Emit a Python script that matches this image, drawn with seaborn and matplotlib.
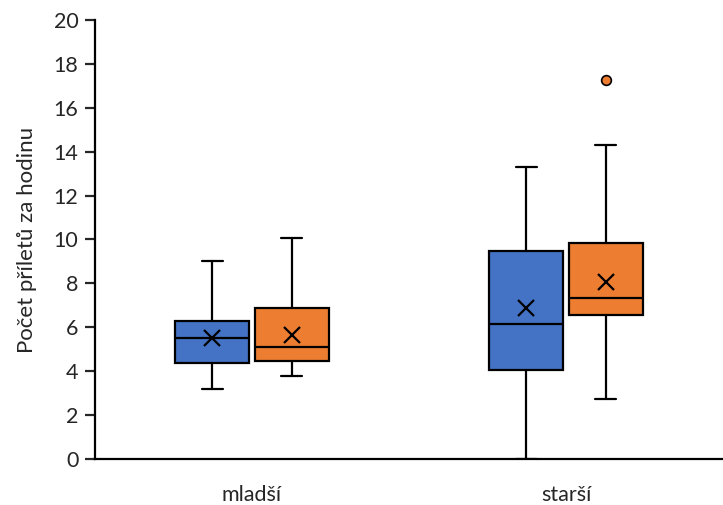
import matplotlib.pyplot as plt
import seaborn as sns
import numpy as np

# box statistics
categories = ['mladší', 'starší']
groups = ['blue', 'orange']
whislo = [[3.19, 0.0], [3.78, 2.73]]     # per group, per category
q1 = [[4.39, 4.05], [4.46, 6.57]]
med = [[5.50, 6.15], [5.12, 7.32]]
q3 = [[6.29, 9.49], [6.89, 9.83]]
whishi = [[9.02, 13.29], [10.07, 14.29]]
means = [[5.50, 6.86], [5.65, 8.08]]
fliers = [[[], []], [[], [17.27]]]

colors = ['#4472C4', '#ED7D31']

sns.set_style('ticks')
plt.rcParams['font.family'] = ['Lato', 'DejaVu Sans']

fig = plt.figure(figsize=(7.23, 5.05), dpi=100)
ax = fig.add_axes([0.1314, 0.0911, 0.8686, 0.8693])

offsets = [-0.127, 0.127]
for g in range(len(groups)):
    stats = []
    for c in range(len(categories)):
        stats.append(dict(whislo=whislo[g][c], q1=q1[g][c], med=med[g][c],
                          q3=q3[g][c], whishi=whishi[g][c], mean=means[g][c],
                          fliers=fliers[g][c]))
    pos = np.arange(len(categories)) + offsets[g]
    ax.bxp(stats, positions=pos, widths=0.236, capwidths=0.067,
           showmeans=True, patch_artist=True, manage_ticks=False,
           boxprops=dict(facecolor=colors[g], edgecolor='black', linewidth=1.6),
           medianprops=dict(color='black', linewidth=1.6),
           whiskerprops=dict(color='black', linewidth=1.6),
           capprops=dict(color='black', linewidth=1.6),
           meanprops=dict(marker='x', markersize=12, markeredgecolor='black',
                          markeredgewidth=1.6),
           flierprops=dict(marker='o', markersize=7, markerfacecolor=colors[g],
                           markeredgecolor='black', markeredgewidth=1.2))

ax.set_xlim(-0.5, 1.5)
ax.set_ylim(0, 20)
ax.set_yticks(np.arange(0, 21, 2))
ax.set_xticks(range(len(categories)))
ax.set_xticklabels(categories)
ax.tick_params(axis='x', length=0, pad=19, labelsize=15.5)
ax.tick_params(axis='y', length=7, width=1.6, labelsize=15.5, direction='out',
               pad=5)
for s in ['left', 'bottom']:
    ax.spines[s].set_linewidth(1.6)
    ax.spines[s].set_color('black')
sns.despine(ax=ax)
ax.set_ylabel('Počet příletů za hodinu', fontsize=16, labelpad=12)

fig.savefig('out.png', dpi=100)
